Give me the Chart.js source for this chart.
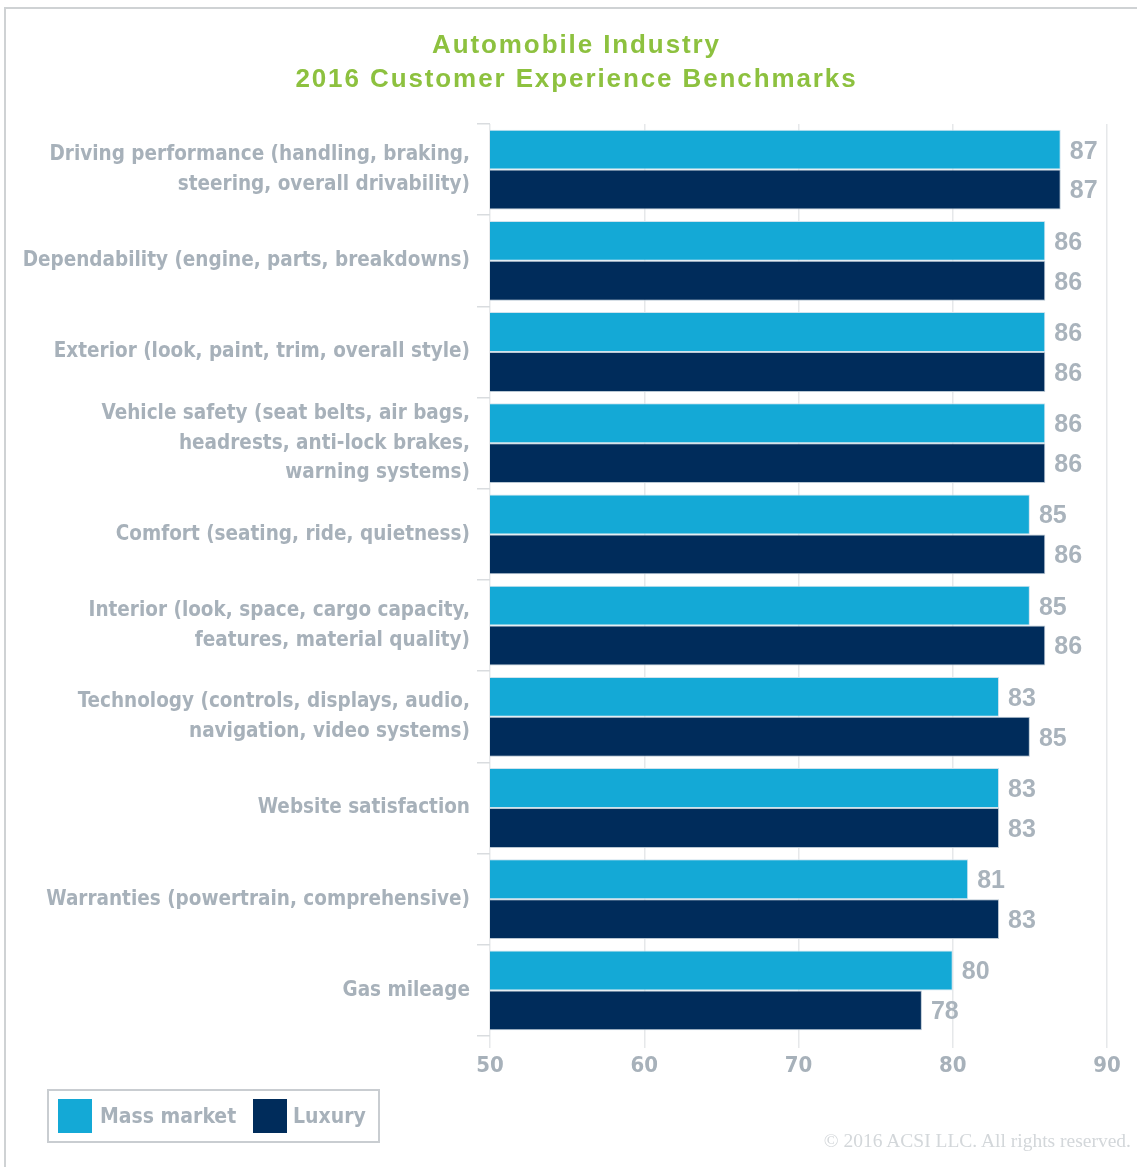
<!DOCTYPE html>
<html>
<head>
<meta charset="utf-8">
<script src="https://cdn.jsdelivr.net/npm/chart.js@4/dist/chart.umd.min.js"></script>
<style>
  html, body { margin: 0; padding: 0; background: #ffffff; }
  #wrap { position: relative; width: 1137px; height: 1167px; overflow: hidden; }
  #frame { position: absolute; left: 4px; top: 7px; right: -10px; bottom: -10px;
           border-top: 2px solid #cfd2d4; border-left: 2px solid #cfd2d4; }
  #title { position: absolute; left: 0; width: 1153px; top: 27px; text-align: center;
           font: bold 26px "Liberation Sans", Arial, sans-serif; letter-spacing: 1.9px;
           color: #8dc13f; line-height: 34px; }
  #chartBox { position: absolute; left: 0; top: 0; width: 1137px; height: 1167px; }
  #legend { position: absolute; left: 47px; top: 1089px; width: 329px; height: 50px;
            border: 2px solid #c9cdd1; }
  .sw { position: absolute; top: 8px; width: 34px; height: 34px; }
  .lt { position: absolute; top: 13px; height: 34px; line-height: 34px;
        font: bold 21px "DejaVu Sans Condensed", "Liberation Sans Narrow", sans-serif; color: #a7b1ba; }
  #copy { position: absolute; right: 6px; top: 1130px;
          font: 19.5px "Liberation Serif", "DejaVu Serif", serif; color: #d3d7da; }
</style>
</head>
<body>
<div id="wrap">
  <div id="frame"></div>
  <div id="chartBox"><canvas id="c"></canvas></div>
  <div id="title"></div>
  <div id="legend"></div>
  <div id="copy"></div>
</div>
<script>
const titleLines = ["Automobile Industry", "2016 Customer Experience Benchmarks"];
const categories = [
  ["Driving performance (handling, braking,", "steering, overall drivability)"],
  "Dependability (engine, parts, breakdowns)",
  "Exterior (look, paint, trim, overall style)",
  ["Vehicle safety (seat belts, air bags,", "headrests, anti-lock brakes,", "warning systems)"],
  "Comfort (seating, ride, quietness)",
  ["Interior (look, space, cargo capacity,", "features, material quality)"],
  ["Technology (controls, displays, audio,", "navigation, video systems)"],
  "Website satisfaction",
  "Warranties (powertrain, comprehensive)",
  "Gas mileage"
];
const seriesNames = ["Mass market", "Luxury"];
const massMarket = [87, 86, 86, 86, 85, 85, 83, 83, 81, 80];
const luxury     = [87, 86, 86, 86, 86, 86, 85, 83, 83, 78];
const xTicks = [50, 60, 70, 80, 90];
const copyright = "© 2016 ACSI LLC. All rights reserved.";

const colors = ["#14a9d6", "#002c5b"];
const labelGrey = "#a7b1ba";
const condFont = '"DejaVu Sans Condensed", "Liberation Sans Narrow", sans-serif';

document.getElementById('title').innerHTML = titleLines.join('<br>');
document.getElementById('copy').textContent = copyright;

const legend = document.getElementById('legend');
const legendPos = [[9, 51], [204, 244]];
seriesNames.forEach((n, i) => {
  const s = document.createElement('div');
  s.className = 'sw'; s.style.left = legendPos[i][0] + 'px'; s.style.background = colors[i];
  legend.appendChild(s);
  const t = document.createElement('div');
  t.className = 'lt'; t.style.left = legendPos[i][1] + 'px'; t.textContent = n;
  legend.appendChild(t);
});

const valueLabels = {
  id: 'valueLabels',
  afterDatasetsDraw(chart) {
    const ctx = chart.ctx;
    ctx.save();
    ctx.font = 'bold 25px "Liberation Sans", Arial, sans-serif';
    ctx.fillStyle = "#a9b3bc";
    ctx.textAlign = 'left';
    ctx.textBaseline = 'middle';
    chart.data.datasets.forEach((ds, di) => {
      const meta = chart.getDatasetMeta(di);
      meta.data.forEach((bar, i) => {
        ctx.fillText(String(ds.data[i]), bar.x + 9, bar.y + 2);
      });
    });
    ctx.restore();
  }
};

new Chart(document.getElementById('c'), {
  type: 'bar',
  data: {
    labels: categories,
    datasets: [
      { label: seriesNames[0], data: massMarket, backgroundColor: colors[0],
        borderColor: "#cfe3ee", borderWidth: 1, borderSkipped: 'left',
        categoryPercentage: 0.875, barPercentage: 1.0 },
      { label: seriesNames[1], data: luxury, backgroundColor: colors[1],
        borderColor: "#b9c7d3", borderWidth: 1, borderSkipped: 'left',
        categoryPercentage: 0.875, barPercentage: 1.0 }
    ]
  },
  options: {
    indexAxis: 'y',
    responsive: true,
    maintainAspectRatio: false,
    animation: false,
    layout: { padding: { top: 124, left: 0, right: 30, bottom: 89 } },
    plugins: { legend: { display: false }, title: { display: false }, tooltip: { enabled: false } },
    scales: {
      x: {
        min: xTicks[0], max: xTicks[xTicks.length - 1],
        afterBuildTicks(scale) { scale.ticks = xTicks.map(v => ({ value: v })); },
        afterFit(scale) { scale.height = 42; },
        border: { display: false },
        grid: { color: "#e6e8ea", lineWidth: 1.5, drawTicks: true, tickLength: 12 },
        ticks: { color: labelGrey, padding: 5,
                 font: { family: condFont, size: 22, weight: 'bold' } }
      },
      y: {
        afterFit(scale) { scale.width = 490; },
        border: { display: false },
        grid: { drawOnChartArea: false, color: "#d9dcdf", lineWidth: 1.5, tickLength: 13, offset: true },
        ticks: { color: labelGrey, padding: 7, autoSkip: false,
                 font: { family: condFont, size: 20.5, weight: 'bold', lineHeight: 1.46 } }
      }
    }
  },
  plugins: [valueLabels]
});
</script>
</body>
</html>
